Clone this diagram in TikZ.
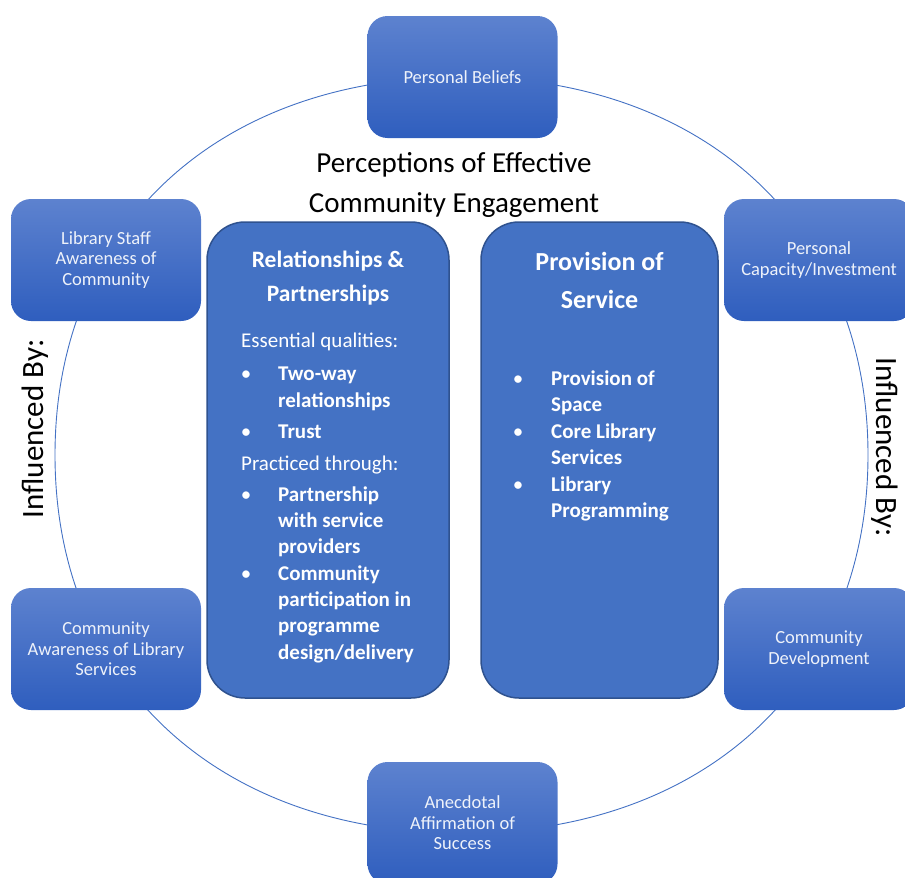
\documentclass[tikz,border=0pt]{standalone}
\usepackage{fontspec}
\setmainfont{Carlito}
\usetikzlibrary{calc}

\definecolor{ringblue}{RGB}{68,114,196}
\definecolor{cardtop}{RGB}{93,130,207}
\definecolor{cardbot}{RGB}{47,94,190}
\definecolor{cardtext}{RGB}{238,242,250}
\definecolor{panelfill}{RGB}{68,114,196}
\definecolor{paneledge}{RGB}{47,82,143}

\tikzset{
  card/.style={rectangle, rounded corners=20pt, minimum width=190pt,
    minimum height=122pt, inner sep=0pt, top color=cardtop,
    bottom color=cardbot, draw=none, text=cardtext, align=center,
    font=\fontsize{18.5}{20.5}\selectfont},
  panel/.style={rectangle, rounded corners=38pt, fill=panelfill,
    draw=paneledge, line width=1.5pt, inner sep=0pt},
  ptitle/.style={anchor=base, inner sep=0pt, text=white,
    font=\fontsize{23.5}{28}\selectfont\bfseries},
  ptitlebig/.style={ptitle, font=\fontsize{26}{30}\selectfont\bfseries},
  plain/.style={anchor=base west, inner sep=0pt, text=white,
    font=\fontsize{21}{26}\selectfont},
  item/.style={plain, font=\fontsize{21}{26}\selectfont\bfseries},
  dot/.style={anchor=base, inner sep=0pt, text=white,
    font=\fontsize{21}{26}\selectfont},
  heading/.style={anchor=base, inner sep=0pt, text=black,
    font=\fontsize{29}{34}\selectfont},
  sidelabel/.style={anchor=base, inner sep=0pt, text=black,
    font=\fontsize{31}{36}\selectfont},
  ring/.style={draw=ringblue, line width=0.9pt}
}

\begin{document}
\begin{tikzpicture}[x=1pt,y=-1pt]
\clip (0,0) rectangle (905,878);

% the cycle ring behind the six cards
\coordinate (c) at (461.5,455);
\draw[ring] ($(c)+(406.5,0)$)
  .. controls ($(c)+(406.5,-226.8)$) and ($(c)+(243.9,-378)$) .. ($(c)+(0,-378)$)
  .. controls ($(c)+(-243.9,-378)$) and ($(c)+(-406.5,-226.8)$) .. ($(c)+(-406.5,0)$)
  .. controls ($(c)+(-406.5,226.8)$) and ($(c)+(-243.9,378)$) .. ($(c)+(0,378)$)
  .. controls ($(c)+(243.9,378)$) and ($(c)+(406.5,226.8)$) .. cycle;

% six influence cards
\node[card] (beliefs)  at (462.5,77)  {Personal Beliefs};
\node[card] (staff)    at (106,260)   {Library Staff\\Awareness of\\Community};
\node[card] (capacity) at (819,260)   {Personal\\Capacity/Investment};
\node[card] (aware)    at (106,649)   {Community\\Awareness of Library\\Services};
\node[card] (develop)  at (819,649)   {Community\\Development};
\node[card] (anecdote) at (462.5,823) {Anecdotal\\Affirmation of\\Success};

% central heading
\node[heading] (h1) at (454,172) {Perceptions of Effective};
\node[heading] (h2) at (454,212.5) {Community Engagement};

% side labels
\node[sidelabel, rotate=90]  (infl) at (43,429) {Influenced By:};
\node[sidelabel, rotate=-90] (infr) at (876,447)  {Influenced By:};

% two central panels
\node[panel, minimum width=242pt, minimum height=476pt] (rel) at (328,460) {};
\node[panel, minimum width=237pt, minimum height=476pt] (prov) at (599.5,460) {};

% relationships & partnerships
\node[ptitle] (relt1) at (328,267.3) {Relationships \&};
\node[ptitle] (relt2) at (328,301)   {Partnerships};
\node[plain] (rels1) at (241,347.5) {Essential qualities:};
\node[dot]  (relb1) at (246,380.7) {•};
\node[item] (rel1a) at (278,380.7) {Two-way};
\node[item] (rel1b) at (278,407.8) {relationships};
\node[dot]  (relb2) at (246,438.8) {•};
\node[item] (rel2a) at (278,438.8) {Trust};
\node[plain] (rels2) at (241,470.5) {Practiced through:};
\node[dot]  (relb3) at (246,501.5) {•};
\node[item] (rel3a) at (278,501.5) {Partnership};
\node[item] (rel3b) at (278,527.5) {with service};
\node[item] (rel3c) at (278,553.5) {providers};
\node[dot]  (relb4) at (246,580.3) {•};
\node[item] (rel4a) at (278,580.3) {Community};
\node[item] (rel4b) at (278,606.5) {participation in};
\node[item] (rel4c) at (278,632.5) {programme};
\node[item] (rel4d) at (278,659)   {design/delivery};

% provision of service
\node[ptitlebig] (provt1) at (599.5,270)   {Provision of};
\node[ptitlebig] (provt2) at (599.5,308.3) {Service};
\node[dot]  (provb1) at (518,385.7) {•};
\node[item] (prov1a) at (551,385.7) {Provision of};
\node[item] (prov1b) at (551,411)   {Space};
\node[dot]  (provb2) at (518,438.3) {•};
\node[item] (prov2a) at (551,438.3) {Core Library};
\node[item] (prov2b) at (551,464)   {Services};
\node[dot]  (provb3) at (518,491)   {•};
\node[item] (prov3a) at (551,491)   {Library};
\node[item] (prov3b) at (551,517.7) {Programming};
\end{tikzpicture}
\end{document}
